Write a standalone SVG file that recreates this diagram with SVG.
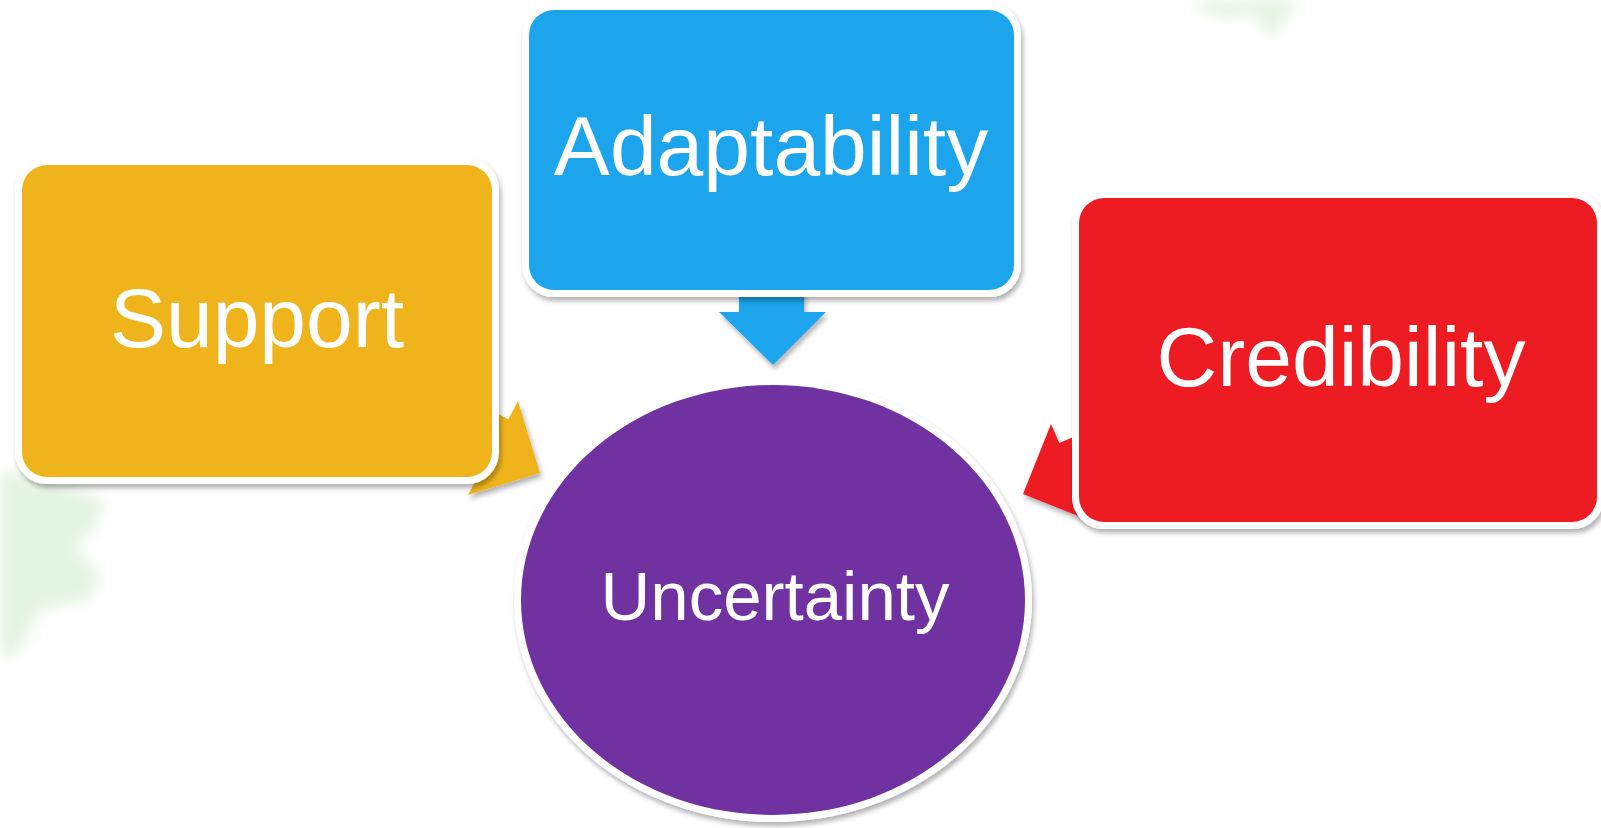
<svg xmlns="http://www.w3.org/2000/svg" width="1601" height="828" viewBox="0 0 1601 828">
<style>
.box{stroke:#ffffff;stroke-width:14;paint-order:stroke;}
.lbl{font-family:"Liberation Sans",Arial,sans-serif;fill:#ffffff;text-anchor:middle;}
</style>
<defs>
<filter id="sh" x="-10%" y="-10%" width="120%" height="130%">
<feDropShadow dx="2" dy="4" stdDeviation="2.5" flood-color="#000" flood-opacity="0.3"/>
</filter>
<filter id="blur" x="-20%" y="-20%" width="140%" height="140%">
<feGaussianBlur stdDeviation="7"/>
</filter>
</defs>
<rect width="1601" height="828" fill="#ffffff"/>
<g id="background" filter="url(#blur)" opacity="0.3">
<path d="M0 470 L50 480 L105 500 L95 530 L75 545 L100 575 L90 600 L40 610 L20 650 L0 660 Z" fill="#a8dca0"/>
<path d="M1195 0 L1300 0 L1285 20 L1270 38 L1255 15 L1225 18 L1200 10 Z" fill="#a8dca0"/>
</g>
<g id="connectors" filter="url(#sh)">
<polygon points="739,250 804,250 804,312 826,312 773,365 719,312 739,312" fill="#1EA5EC"/>
<polygon points="424.5,448.4 455.1,391 508.3,419.3 518,401 540,473 468,495 477.7,476.7" fill="#EFB41F"/>
<polygon points="1114.4,419.5 1059.2,443.1 1051,424 1023,494 1093,522 1084.8,502.9 1140,479.3" fill="#ED1C24"/>
</g>
<g id="support" filter="url(#sh)">
<rect class="box" x="22" y="165" width="470" height="312" rx="25" fill="#EFB41F"/>
<text class="lbl" x="257" y="347" font-size="84">Support</text>
</g>
<g id="adaptability" filter="url(#sh)">
<rect class="box" x="529" y="10" width="485" height="280" rx="25" fill="#1EA5EC"/>
<text class="lbl" x="771" y="175" font-size="84">Adaptability</text>
</g>
<g id="credibility" filter="url(#sh)">
<rect class="box" x="1079" y="198" width="518" height="324" rx="25" fill="#ED1C24"/>
<text class="lbl" x="1341" y="386" font-size="84">Credibility</text>
</g>
<g id="uncertainty" filter="url(#sh)">
<ellipse class="box" cx="773" cy="600" rx="252" ry="215" fill="#7030A0"/>
<text class="lbl" x="775" y="620" font-size="69">Uncertainty</text>
</g>
</svg>
